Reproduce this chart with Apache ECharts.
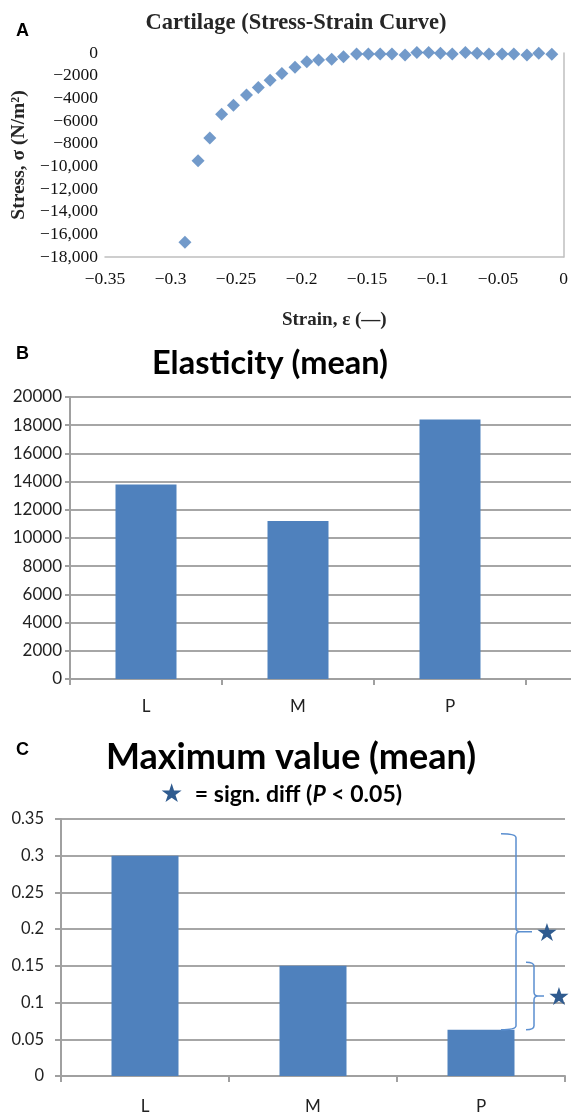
<!DOCTYPE html>
<html>
<head>
<meta charset="utf-8">
<script src="https://cdn.jsdelivr.net/npm/echarts@6/dist/echarts.min.js"></script>
<style>
html,body{margin:0;padding:0;background:#fff;}
#c{width:571px;height:1115px;}
</style>
</head>
<body>
<div id="c"></div>
<script>
// ---- Panel A data: stress-strain curve ----
const strainA = [-0.289,-0.279,-0.270,-0.261,-0.252,-0.242,-0.233,-0.224,-0.215,-0.205,-0.196,-0.187,-0.177,-0.168,-0.158,-0.149,-0.140,-0.131,-0.121,-0.112,-0.103,-0.094,-0.085,-0.075,-0.066,-0.057,-0.047,-0.038,-0.028,-0.019,-0.009];
const stressA = [-16700,-9500,-7500,-5400,-4600,-3700,-3050,-2400,-1800,-1250,-770,-620,-560,-330,-90,-90,-90,-90,-180,50,50,-30,-90,50,-30,-90,-90,-90,-180,-30,-110];
// ---- Panel B data ----
const categoriesB = ['L','M','P'];
const elasticityB = [13800,11200,18400];
// ---- Panel C data ----
const categoriesC = ['L','M','P'];
const maxValueC = [0.30,0.15,0.063];
// significance braces: [category index, low, high]
const bracesC = [[2,0.063,0.33],[2,0.063,0.155]];

const BLUE = '#4f81bd';
const STAR = '#2f5b8f';
const SERIF = '"Liberation Serif","Times New Roman",serif';
const SANS = 'Lato,"Open Sans",sans-serif';
const ARIAL = '"Liberation Sans",Arial,sans-serif';
const AXGRAY = '#a0a0a0';
const GRIDGRAY = '#a6a6a6';

function minusFmt(v, comma){
  let s = Math.abs(v);
  let str = (comma && s >= 10000) ? s.toLocaleString('en-US') : String(+s.toFixed(4));
  return (v < 0 ? '\u2212' : '') + str;
}

const chart = echarts.init(document.getElementById('c'), null, {renderer:'canvas'});
const option = {
  animation:false,
  backgroundColor:'#fff',
  title:[
    {text:'A', left:11, top:17, textStyle:{fontFamily:ARIAL,fontWeight:'bold',fontSize:18,color:'#000'}},
    {text:'Cartilage (Stress-Strain Curve)', left:291, top:7, textAlign:'center', textStyle:{fontFamily:SERIF,fontWeight:'bold',fontSize:22.5,color:'#262626'}},
    {text:'B', left:11, top:340, textStyle:{fontFamily:ARIAL,fontWeight:'bold',fontSize:18,color:'#000'}},
    {text:'Elasticity (mean)', left:265, top:342, textAlign:'center', textStyle:{fontFamily:SANS,fontWeight:'bold',fontSize:32.5,color:'#000'}},
    {text:'C', left:11, top:736, textStyle:{fontFamily:ARIAL,fontWeight:'bold',fontSize:18,color:'#000'}},
    {text:'Maximum value (mean)', left:286, top:734, textAlign:'center', textStyle:{fontFamily:SANS,fontWeight:'bold',fontSize:36,color:'#000'}},
    {text:'{s|\u2605} = sign. diff ({i|P} < 0.05)', left:276, top:777, textAlign:'center',
      textStyle:{fontFamily:SANS,fontWeight:'bold',fontSize:23,color:'#000',
        rich:{s:{fontFamily:'DejaVu Sans',fontSize:26,color:STAR,padding:[0,6,0,0]}, i:{fontFamily:SANS,fontStyle:'italic',fontWeight:'bold',fontSize:23,color:'#000'}}}}
  ],
  grid:[
    {left:105, top:53, width:460, height:204},
    {left:70, top:397, width:456, height:282},
    {left:61, top:819, width:504, height:259},
    {left:70, top:397, width:501, height:282}
  ],
  xAxis:[
    {gridIndex:0, type:'value', min:-0.35, max:0, interval:0.05,
      name:'Strain, \u03b5 (\u2014)', nameLocation:'middle', nameGap:54,
      nameTextStyle:{fontFamily:SERIF,fontWeight:'bold',fontSize:19,color:'#262626'},
      axisLine:{show:true,onZero:false,lineStyle:{color:'#bfbfbf',width:1.5}},
      axisTick:{show:false}, splitLine:{show:false},
      axisLabel:{fontFamily:SERIF,fontSize:17.5,color:'#111',margin:13,formatter:v=>minusFmt(v,false)}},
    {gridIndex:1, type:'category', data:categoriesB,
      axisLine:{show:false},
      axisTick:{show:true,length:6,lineStyle:{color:AXGRAY,width:2}},
      axisLabel:{fontFamily:SANS,fontSize:17,color:'#222',margin:19}},
    {gridIndex:2, type:'category', data:categoriesC,
      axisLine:{lineStyle:{color:AXGRAY,width:2}},
      axisTick:{show:true,length:6,lineStyle:{color:AXGRAY,width:2}},
      axisLabel:{fontFamily:SANS,fontSize:17,color:'#222',margin:22}},
    {gridIndex:3, type:'value', min:0, max:1,
      axisLine:{show:true,onZero:false,lineStyle:{color:AXGRAY,width:2}},
      axisTick:{show:false}, axisLabel:{show:false}, splitLine:{show:false}}
  ],
  yAxis:[
    {gridIndex:0, type:'value', min:-18000, max:0, interval:2000,
      name:'Stress, \u03c3 (N/m\u00b2)', nameLocation:'middle', nameGap:74,
      nameTextStyle:{fontFamily:SERIF,fontWeight:'bold',fontSize:19.5,color:'#262626'},
      axisLine:{show:true,lineStyle:{color:'#bfbfbf',width:1.5}},
      axisTick:{show:false}, splitLine:{show:false},
      axisLabel:{fontFamily:SERIF,fontSize:17.5,color:'#111',margin:7,formatter:v=>minusFmt(v,true)}},
    {gridIndex:1, type:'value', min:0, max:20000, interval:2000,
      axisLine:{show:true,lineStyle:{color:AXGRAY,width:2}},
      axisTick:{show:true,length:5,lineStyle:{color:AXGRAY,width:2}},
      splitLine:{show:false},
      axisLabel:{fontFamily:SANS,fontSize:17,color:'#222',margin:8,formatter:v=>String(v)}},
    {gridIndex:2, type:'value', min:0, max:0.35, interval:0.05,
      axisLine:{show:true,lineStyle:{color:AXGRAY,width:2}},
      axisTick:{show:true,length:6,lineStyle:{color:AXGRAY,width:2}},
      splitLine:{show:true,lineStyle:{color:GRIDGRAY,width:2}},
      axisLabel:{fontFamily:SANS,fontSize:16.5,color:'#222',margin:17,formatter:v=>String(+v.toFixed(2))}},
    {gridIndex:3, type:'value', min:0, max:20000, interval:2000,
      axisLine:{show:false}, axisTick:{show:false}, axisLabel:{show:false},
      splitLine:{show:true,lineStyle:{color:GRIDGRAY,width:2}}}
  ],
  series:[
    {type:'scatter', xAxisIndex:0, yAxisIndex:0, symbol:'diamond', symbolSize:13, clip:false,
      itemStyle:{color:BLUE}, data:strainA.map((x,i)=>[x,stressA[i]])},
    {type:'bar', xAxisIndex:1, yAxisIndex:1, barWidth:61, z:3, itemStyle:{color:BLUE}, data:elasticityB},
    {type:'bar', xAxisIndex:2, yAxisIndex:2, barWidth:67, itemStyle:{color:BLUE}, data:maxValueC},
    {type:'custom', xAxisIndex:2, yAxisIndex:2, z:5, clip:false, data:bracesC,
      renderItem:function(params, api){
        const ci = api.value(0), lo = api.value(1), hi = api.value(2);
        const pLo = api.coord([ci, lo]);
        const pHi = api.coord([ci, hi]);
        const big = params.dataIndex === 0;
        const x = pLo[0] + (big ? 35 : 53);
        const w = big ? 15 : 8;
        const tip = big ? 16 : 10;
        const r = 4;
        const top = pHi[1], bot = pLo[1], mid = (top+bot)/2;
        const d = 'M'+(x-w)+' '+top+' Q'+x+' '+top+' '+x+' '+(top+r)+
                  ' L'+x+' '+(mid-r)+' Q'+x+' '+mid+' '+(x+r)+' '+mid+
                  ' L'+(x+tip)+' '+mid+
                  ' M'+(x+r)+' '+mid+' Q'+x+' '+mid+' '+x+' '+(mid+r)+
                  ' L'+x+' '+(bot-r)+' Q'+x+' '+bot+' '+(x-w)+' '+bot;
        return {type:'group', children:[
          {type:'path', shape:{pathData:d}, style:{fill:null, stroke:'#5b8fd0', lineWidth:1.5}},
          {type:'text', x:x+tip+15, y:mid+3, style:{text:'\u2605', fill:STAR, font:'25px "DejaVu Sans"', align:'center', verticalAlign:'middle'}}
        ]};
      }}
  ]
};
chart.setOption(option);
</script>
</body>
</html>
